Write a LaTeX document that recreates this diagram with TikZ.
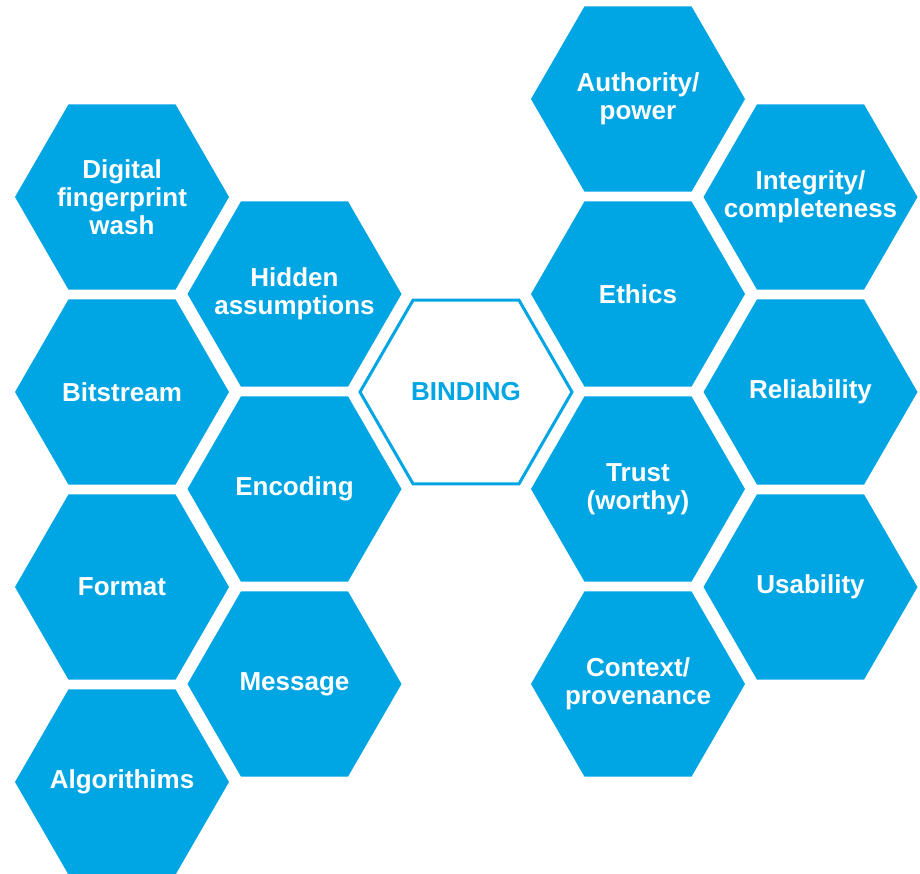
\documentclass[tikz,border=0pt]{standalone}
\usepackage{fontspec}
\setmainfont{Liberation Sans}
\usetikzlibrary{shapes.geometric}
\definecolor{hexblue}{RGB}{0, 165, 227}

\begin{document}
\begin{tikzpicture}[
        x=1pt, y=-1pt,
        hexlabel/.style={text=white, align=center, inner sep=0pt, font=\fontsize{26}{28}\selectfont\bfseries},
        hex/.style={regular polygon, regular polygon sides=6, minimum size=214pt, inner sep=0pt, fill=hexblue, label={[hexlabel]center:{#1}}},
        core/.style={regular polygon, regular polygon sides=6, minimum size=212pt, inner sep=0pt, fill=white, draw=hexblue, line width=3pt, label={[hexlabel, text=hexblue]center:{#1}}}
    ]
        \useasboundingbox (0,0) rectangle (920,873);

        % left side
        \node[hex={Digital\\fingerprint\\wash}] (digital) at (122,197) {};
        \node[hex={Bitstream}] (bitstream) at (122,392) {};
        \node[hex={Format}] (format) at (122,587) {};
        \node[hex={Algorithims}] (algorithims) at (122,782) {};
        \node[hex={Hidden\\assumptions}] (hidden) at (294.5,294) {};
        \node[hex={Encoding}] (encoding) at (294.5,489) {};
        \node[hex={Message}] (message) at (294.5,684) {};

        % centre
        \node[core={BINDING}] (binding) at (466,392) {};

        % right side
        \node[hex={Authority/\\power}] (authority) at (638,99) {};
        \node[hex={Ethics}] (ethics) at (638,294) {};
        \node[hex={Trust\\(worthy)}] (trust) at (638,489) {};
        \node[hex={Context/\\provenance}] (context) at (638,684) {};
        \node[hex={Integrity/\\completeness}] (integrity) at (810.5,197) {};
        \node[hex={Reliability}] (reliability) at (810.5,392) {};
        \node[hex={Usability}] (usability) at (810.5,587) {};
    \end{tikzpicture}
\end{document}
